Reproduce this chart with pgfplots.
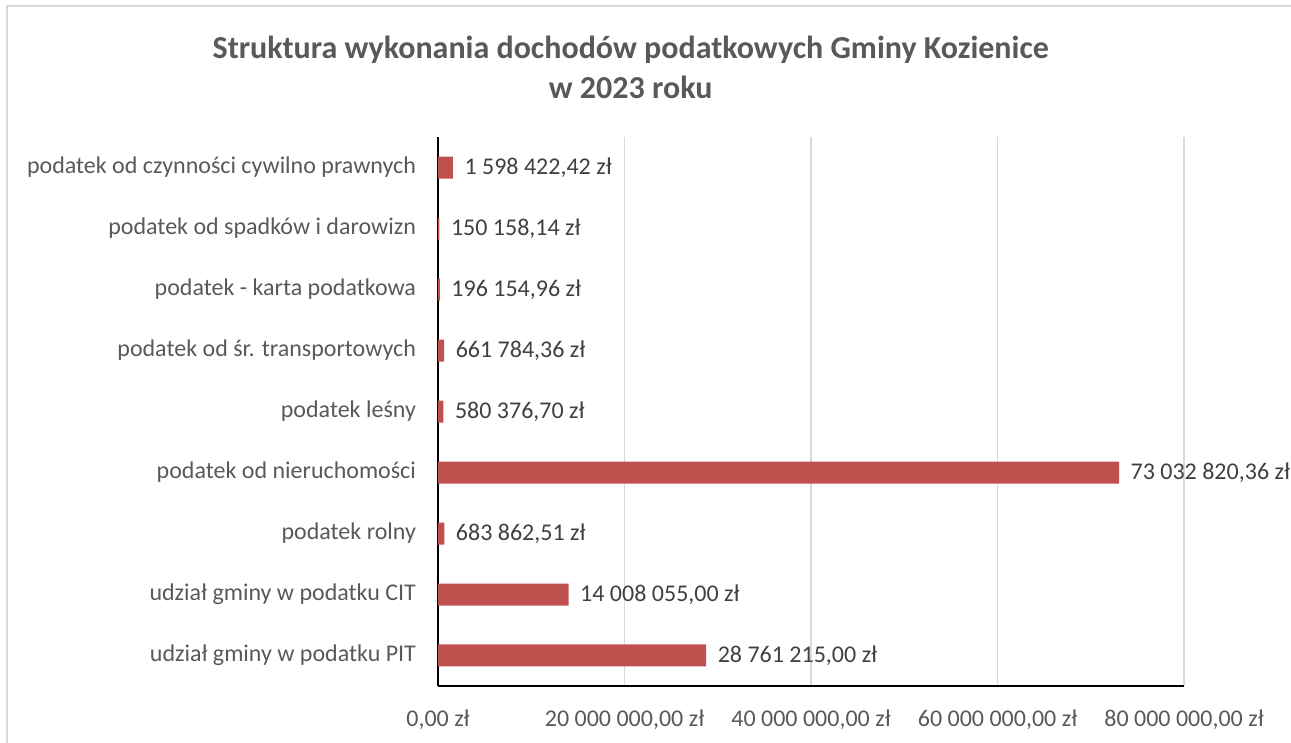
\documentclass[border=0pt]{standalone}
\usepackage{fontspec}
\setmainfont{Carlito}
\usepackage{pgfplots}
\usepackage{pgfplotstable}
\pgfplotsset{compat=1.18}
\definecolor{barred}{HTML}{C0504D}
\definecolor{txtgray}{HTML}{595959}
\definecolor{lblgray}{HTML}{404040}
\definecolor{gridgray}{HTML}{D9D9D9}
\pgfplotstableread[col sep=semicolon,row sep=\\]{
idx;val;lab\\
0;28761215.00;28 761 215,00 zł\\
1;14008055.00;14 008 055,00 zł\\
2;683862.51;683 862,51 zł\\
3;73032820.36;73 032 820,36 zł\\
4;580376.70;580 376,70 zł\\
5;661784.36;661 784,36 zł\\
6;196154.96;196 154,96 zł\\
7;150158.14;150 158,14 zł\\
8;1598422.42;1 598 422,42 zł\\
}\data
\begin{document}
\begin{tikzpicture}[x=1pt,y=1pt]
\path[use as bounding box] (0,0) rectangle (968.25,556.5);
\draw[gridgray,line width=1.5pt] (5.25,-10) -- (5.25,552) -- (975,552);
\node[txtgray,align=center,font=\fontsize{24}{30}\selectfont\bfseries] at (473,506.25) {Struktura wykonania dochodów podatkowych Gminy Kozienice\\w 2023 roku};
\begin{axis}[
  at={(328.5pt,42pt)}, anchor=south west,
  scale only axis, width=559.5pt, height=411.75pt,
  xbar, bar width=16.5pt,
  xmin=0, xmax=80000000, ymin=-0.5, ymax=8.5,
  enlargelimits=false, clip=false,
  ytick={0,...,8},
  yticklabels={udział gminy w podatku PIT,udział gminy w podatku CIT,podatek rolny,podatek od nieruchomości,podatek leśny,podatek od śr. transportowych,podatek - karta podatkowa,podatek od spadków i darowizn,podatek od czynności cywilno prawnych},
  xtick={0,20000000,40000000,60000000,80000000},
  xticklabels={{0,00 zł},{20 000 000,00 zł},{40 000 000,00 zł},{60 000 000,00 zł},{80 000 000,00 zł}},
  scaled x ticks=false,
  axis x line*=bottom, axis y line*=left,
  axis line style={-, black, line width=1.2pt},
  major tick length=0pt,
  xmajorgrids, grid style={gridgray, line width=1pt},
  tick label style={txtgray, font=\fontsize{18}{22}\selectfont},
  xticklabel style={yshift=-14pt},
  yticklabel style={xshift=-13pt},
  nodes near coords,
  point meta=explicit symbolic,
  every node near coord/.append style={lblgray, font=\fontsize{18}{22}\selectfont, anchor=west, inner sep=0pt, xshift=8.5pt},
]
\addplot[fill=barred, draw=none] table[x=val, y=idx, meta=lab] {\data};
\end{axis}
\end{tikzpicture}
\end{document}
